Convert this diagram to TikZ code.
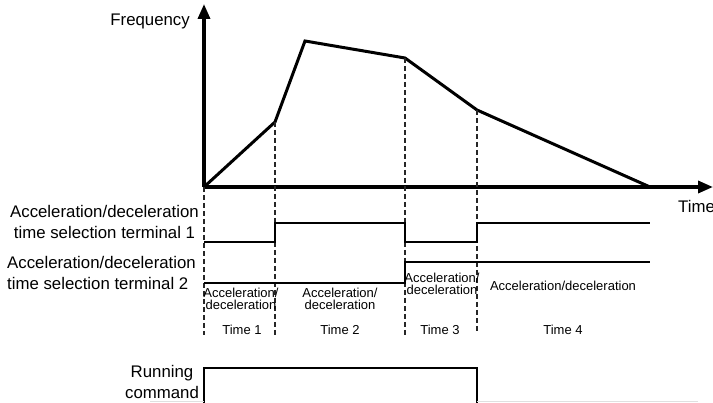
\documentclass[tikz,border=0pt]{standalone}
\usepackage{fontspec}
\setmainfont{Liberation Sans}
\usetikzlibrary{arrows.meta}
\tikzset{
  axisline/.style={line width=3.4pt, -{Triangle[length=15pt,width=12pt]}},
  curve/.style={line width=3pt, line join=miter},
  signal/.style={line width=2pt},
  guide/.style={line width=1.8pt, black!85, dash pattern=on 5pt off 3pt},
  biglabel/.style={font=\fontsize{16.8}{20.5}\selectfont, inner sep=0pt},
  smalllabel/.style={font=\fontsize{13}{12.3}\selectfont, align=center, inner sep=0pt},
}
\begin{document}
\begin{tikzpicture}[x=1pt, y=-1pt]
\useasboundingbox (0,0) rectangle (713,403);
% Axes
\coordinate (origin) at (204,187);
\coordinate (ytip) at (204,4);
\coordinate (xtip) at (713,187);
\draw[axisline] (origin) -- (ytip);
\draw[axisline] (origin) -- (xtip);
\node[biglabel, anchor=east] (freq) at (190,21) {Frequency};
\node[biglabel, anchor=west] (time) at (678,206) {Time};
% Frequency curve
\coordinate (p1) at (275,122);
\coordinate (p2) at (305,41);
\coordinate (p3) at (405,58);
\coordinate (p4) at (477,110);
\coordinate (p5) at (650,187);
\draw[curve] (origin) -- (p1) -- (p2) -- (p3) -- (p4) -- (p5);
% Dashed time guides
\coordinate (g0) at (204,335);
\coordinate (g1) at (275,335);
\coordinate (g3) at (405,335);
\coordinate (g4) at (477,332);
\draw[guide] (origin) -- (g0);
\draw[guide] (p1) -- (g1);
\draw[guide] (p3) -- (g3);
\draw[guide] (p4) -- (g4);
% Terminal signals
\draw[signal] (204,242) -- (275,242) -- (275,223) -- (405,223) -- (405,242)
  -- (477,242) -- (477,223) -- (650,223);
\draw[signal] (204,283) -- (405,283) -- (405,262) -- (650,262);
\node[biglabel, align=center, anchor=east] (term1) at (199,222)
  {Acceleration/deceleration\\time selection terminal 1};
\node[biglabel, align=left, anchor=west] (term2) at (7,273)
  {Acceleration/deceleration\\time selection terminal 2};
% Time intervals
\node[smalllabel] (acc1) at (241,299) {Acceleration/\\deceleration};
\node[smalllabel] (acc2) at (340,299) {Acceleration/\\deceleration};
\node[smalllabel] (acc3) at (442,284) {Acceleration/\\deceleration};
\node[smalllabel] (acc4) at (563,286) {Acceleration/deceleration};
\foreach \name/\x/\t in {t1/242/1, t2/340/2, t3/440/3, t4/563/4}
  \node[smalllabel] (\name) at (\x,330) {Time \t};
% Running command
\draw[signal] (204,403) -- (204,368) -- (477,368) -- (477,403);
\draw[black!12, line width=1pt] (150,402) -- (204,402);
\draw[black!12, line width=1pt] (477,402) -- (698,402);
\node[biglabel, align=center] (run) at (162,382) {Running\\command};
\end{tikzpicture}
\end{document}
